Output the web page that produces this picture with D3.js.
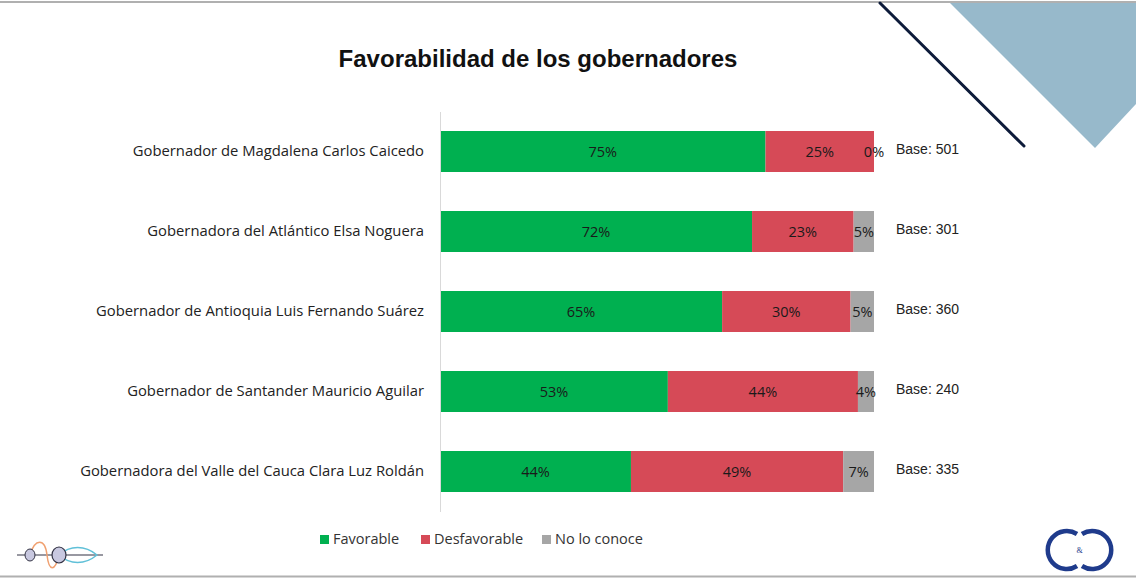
<!DOCTYPE html>
<html><head><meta charset="utf-8">
<script src="https://cdn.jsdelivr.net/npm/d3@7"></script>
<style>body{margin:0;background:#fff;}svg{display:block;}</style>
</head><body>
<svg id="c" width="1136" height="578"></svg>
<script>
const categories = [
  "Gobernador de Magdalena Carlos Caicedo",
  "Gobernadora del Atlántico Elsa Noguera",
  "Gobernador de Antioquia Luis Fernando Suárez",
  "Gobernador de Santander Mauricio Aguilar",
  "Gobernadora del Valle del Cauca Clara Luz Roldán"
];
const favorable = [75, 71.9, 65, 52.5, 44];
const desfavorable = [25, 23.4, 29.6, 43.8, 48.9];
const noConoce = [0, 4.7, 5.4, 3.7, 7.1];
const bases = [501, 301, 360, 240, 335];
const seriesNames = ["Favorable", "Desfavorable", "No lo conoce"];
const colors = ["#00b050", "#d64a57", "#a6a6a6"];

const svg = d3.select("#c");
// frame lines
svg.append("line").attr("x1",0).attr("x2",1136).attr("y1",2).attr("y2",2).attr("stroke","#b0b0b0").attr("stroke-width",2);
svg.append("line").attr("x1",0).attr("x2",1136).attr("y1",576.5).attr("y2",576.5).attr("stroke","#b0b0b0").attr("stroke-width",2);

// decoration top-right
svg.append("polygon").attr("points","950,3 1136,3 1136,104 1095,148").attr("fill","#97b9cb");
svg.append("line").attr("x1",880).attr("y1",3).attr("x2",1024).attr("y2",146).attr("stroke","#0d1b3a").attr("stroke-width",3).attr("stroke-linecap","round");

// title
svg.append("text").attr("x",538).attr("y",67).attr("text-anchor","middle")
  .attr("font-family","Liberation Sans, Arial, sans-serif").attr("font-weight","bold").attr("font-size",24)
  .attr("fill","#111").text("Favorabilidad de los gobernadores");

const x = d3.scaleLinear().domain([0,100]).range([440,874]);
const y = d3.scaleBand().domain(categories).range([111.5,511.5]).paddingInner(0.4875).paddingOuter(0.24375);

const rows = categories.map((c,i)=>({cat:c, vals:[favorable[i], desfavorable[i], noConoce[i]], base:bases[i]}));
const stackData = rows.map(r=>({cat:r.cat, Favorable:r.vals[0], Desfavorable:r.vals[1], "No lo conoce":r.vals[2]}));
const stack = d3.stack().keys(seriesNames)(stackData);

const g = svg.append("g");
stack.forEach((s,si)=>{
  g.selectAll(null).data(s).enter().append("rect")
    .attr("x",d=>x(d[0])).attr("width",d=>x(d[1])-x(d[0]))
    .attr("y",d=>y(d.data.cat)).attr("height",y.bandwidth())
    .attr("fill",colors[si]);
});
stack.forEach((s,si)=>{
  g.selectAll(null).data(s).enter().append("text")
    .attr("x",d=>(x(d[0])+x(d[1]))/2)
    .attr("text-anchor","middle")
    .attr("y",d=>y(d.data.cat)+y.bandwidth()/2+5.5)
    .attr("font-family","Open Sans, Noto Sans, sans-serif").attr("font-size",14.5)
    .attr("fill","#1a1a1a")
    .text(d=>Math.round(d[1]-d[0])+"%");
});

// axis
const ax = svg.append("g").attr("transform","translate(440,0)")
  .call(d3.axisLeft(y).tickSize(0).tickPadding(16));
ax.select(".domain").attr("stroke","#d9d9d9").attr("stroke-width",1);
ax.selectAll("text").attr("font-family","Open Sans, Noto Sans, sans-serif").attr("font-size",14.8).attr("fill","#222");

// base labels
g.selectAll(null).data(rows).enter().append("text")
  .attr("x",896).attr("y",d=>y(d.cat)+y.bandwidth()/2+2)
  .attr("font-family","Liberation Sans, Arial, sans-serif").attr("font-size",14)
  .attr("fill","#222").text(d=>"Base: "+d.base);

// legend
const legX = [320, 421, 542];
const leg = svg.append("g");
seriesNames.forEach((n,i)=>{
  leg.append("rect").attr("x",legX[i]).attr("y",535).attr("width",9).attr("height",9).attr("fill",colors[i]);
  leg.append("text").attr("x",legX[i]+13).attr("y",544).attr("font-family","Open Sans, Noto Sans, sans-serif")
    .attr("font-size",14.5).attr("fill","#333").text(n);
});

// left logo (approximate)
const lg = svg.append("g");
lg.append("line").attr("x1",17).attr("x2",103).attr("y1",555).attr("y2",555).attr("stroke","#334").attr("stroke-width",1.2);
lg.append("path").attr("d","M30,555 C35,538 45,538 47,555 C49,572 55,572 59,555").attr("fill","none").attr("stroke","#f0a070").attr("stroke-width",1.5);
lg.append("path").attr("d","M59,555 C70,545 85,545 97,555 C85,565 70,565 59,555").attr("fill","none").attr("stroke","#60c0d8").attr("stroke-width",1.5);
lg.append("ellipse").attr("cx",30).attr("cy",555).attr("rx",5).attr("ry",6).attr("fill","#c8c8e0").attr("stroke","#334").attr("stroke-width",1);
lg.append("ellipse").attr("cx",59).attr("cy",555).attr("rx",7).attr("ry",8).attr("fill","#c8c8e0").attr("stroke","#334").attr("stroke-width",1.2);

// right logo (approximate)
const rl = svg.append("g");
rl.append("path").attr("d","M1077,534 A19,19 0 1 0 1077,566").attr("fill","none").attr("stroke","#1f3b8c").attr("stroke-width",4.5);
rl.append("path").attr("d","M1082,534 A19,19 0 1 1 1082,566").attr("fill","none").attr("stroke","#1f3b8c").attr("stroke-width",4.5);
rl.append("text").attr("x",1079.5).attr("y",553).attr("text-anchor","middle").attr("font-size",8).attr("fill","#1f3b8c").attr("font-family","Liberation Serif, serif").text("&");
</script>
</body></html>
